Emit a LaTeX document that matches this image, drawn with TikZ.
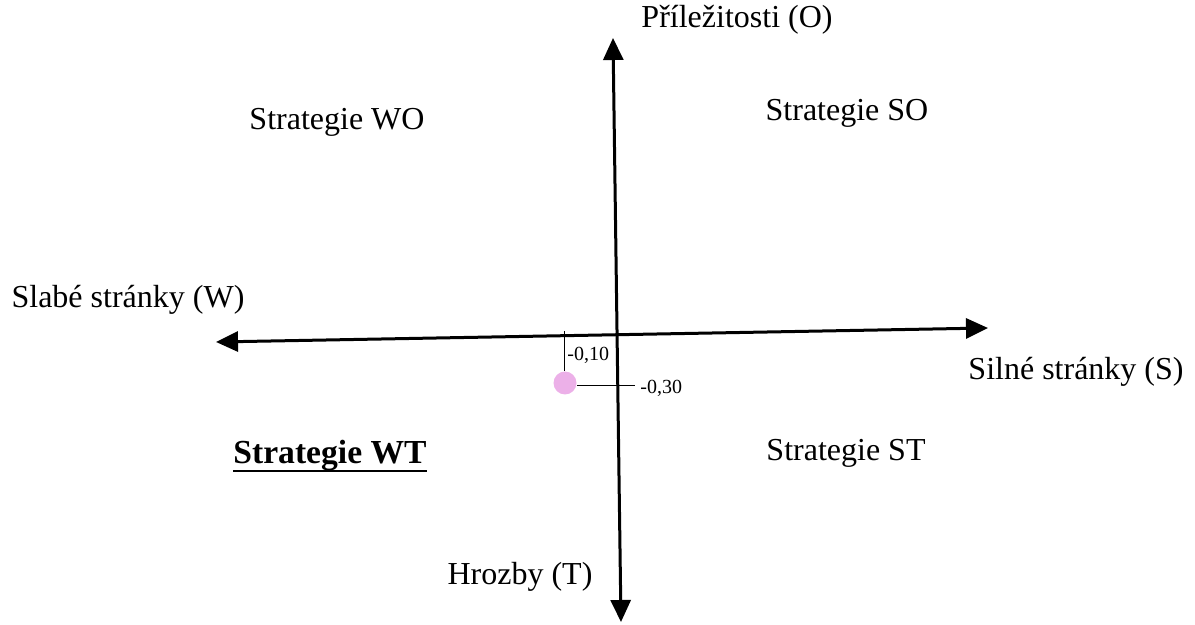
\documentclass[tikz,border=0pt]{standalone}
\usepackage{fontspec}
\setmainfont{Liberation Serif}
\usetikzlibrary{arrows.meta}

\definecolor{dotpink}{RGB}{236,176,232}

\begin{document}
\begin{tikzpicture}[x=0.5pt,y=-0.5pt,>={Triangle[length=11pt,width=10pt]},
    font=\fontsize{16}{19}\selectfont]
    \tikzset{
      axis/.style={line width=1.5pt,<->},
      guide/.style={line width=0.5pt},
      lbl/.style={inner sep=0pt},
      val/.style={inner sep=0pt,font=\fontsize{10}{12}\selectfont}
    }
    \useasboundingbox (0,0) rectangle (1195,625);
    % Axis ends
    \coordinate (otop) at (613,38);
    \coordinate (tbot) at (621,622);
    \coordinate (wleft) at (216,342);
    \coordinate (sright) at (988,328);
    \draw[axis] (wleft) -- (sright);
    \draw[axis] (otop) -- (tbot);

    % Axis captions
    \node[lbl] (opp)  at (737,20)  {Příležitosti (O)};
    \node[lbl] (thr)  at (520,577) {Hrozby (T)};
    \node[lbl] (weak) at (128,300) {Slabé stránky (W)};
    \node[lbl] (str)  at (1076,372) {Silné stránky (S)};

    % Quadrants
    \node[lbl] (wo) at (337,122) {Strategie WO};
    \node[lbl] (so) at (847,113) {Strategie SO};
    \node[lbl,font=\fontsize{16.8}{19}\selectfont\bfseries,text depth=3pt] (wt) at (330,455) {Strategie WT};
    \draw[line width=1pt] ([yshift=-0.5pt]wt.south west) -- ([yshift=-0.5pt]wt.south east);
    \node[lbl] (st) at (846,453) {Strategie ST};

    % Position of the firm
    \node[circle,fill=dotpink,inner sep=0pt,minimum size=11.5pt] (pos) at (565,383) {};
    \coordinate (vtick) at (564,331);
    \coordinate (htick) at (635,386);
    \draw[guide] (vtick) -- (pos.north -| vtick);
    \draw[guide] (pos.east |- htick) -- (htick);
    \node[val,anchor=west] (vx) at (567,355) {-0,10};
    \node[val,anchor=west] (vy) at (640,388) {-0,30};
  \end{tikzpicture}
\end{document}
